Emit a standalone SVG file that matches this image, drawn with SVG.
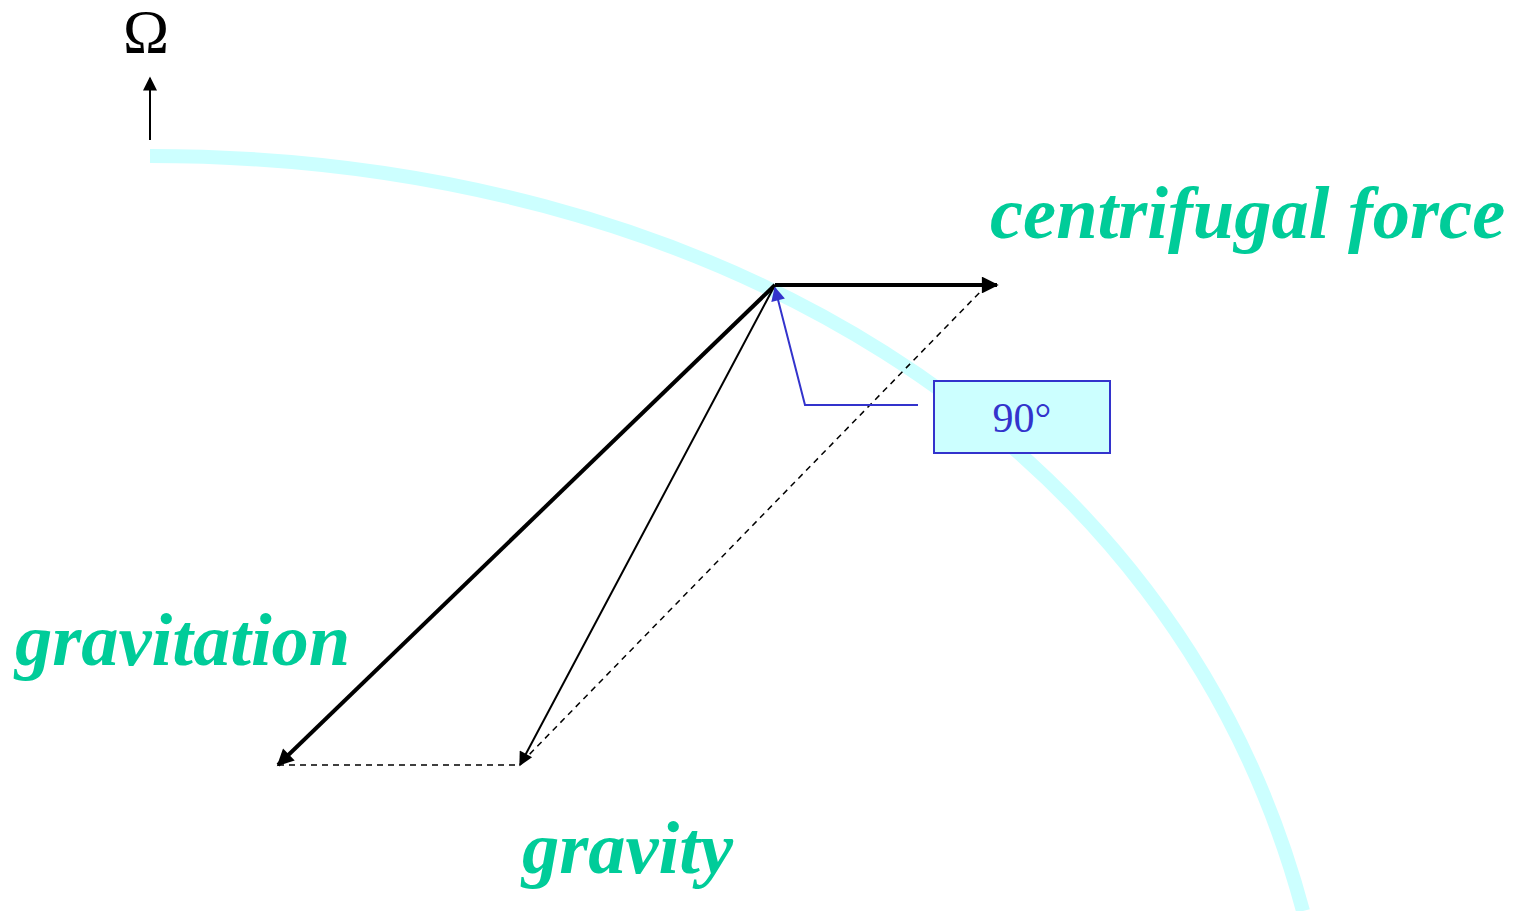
<svg xmlns="http://www.w3.org/2000/svg" width="1518" height="911" viewBox="0 0 1518 911">
<style>
.lbl{font-family:"Liberation Serif","Times New Roman",serif;font-weight:bold;font-style:italic;font-size:74.5px;fill:#00CC99}
.dash{stroke:#000;stroke-width:1.5;stroke-dasharray:6,5;fill:none}
</style>
<defs>
<marker id="ah" viewBox="0 0 10 10" refX="9" refY="5" markerWidth="5" markerHeight="4.2" orient="auto" markerUnits="strokeWidth"><path d="M0,0 L10,5 L0,10 z" fill="#000"/></marker>
<marker id="ahThin" viewBox="0 0 10 10" refX="9" refY="5" markerWidth="9" markerHeight="7" orient="auto" markerUnits="strokeWidth"><path d="M0,0 L10,5 L0,10 z" fill="#000"/></marker>
<marker id="ahBlue" viewBox="0 0 10 10" refX="9" refY="5" markerWidth="9" markerHeight="7" orient="auto" markerUnits="strokeWidth"><path d="M0,0 L10,5 L0,10 z" fill="#3333CC"/></marker>
</defs>
<rect width="1518" height="911" fill="#fff"/>
<path id="arc" d="M150,156 C700,156 1174,428 1303,911" fill="none" stroke="#CCFFFF" stroke-width="14"/>
<g id="omega">
<text x="146" y="52" font-family="'Liberation Serif','Times New Roman',serif" font-size="62" text-anchor="middle" fill="#000">Ω</text>
</g>
<g id="connectors">
<line x1="150" y1="140" x2="150" y2="78" stroke="#000" stroke-width="2" marker-end="url(#ahThin)"/>
<line class="dash" x1="278" y1="765" x2="520" y2="765"/>
<line class="dash" x1="522" y1="762" x2="985" y2="287"/>
<line x1="775" y1="285" x2="997" y2="285" stroke="#000" stroke-width="4" marker-end="url(#ah)"/>
<line x1="775" y1="285" x2="278" y2="765" stroke="#000" stroke-width="4" marker-end="url(#ah)"/>
<line x1="775" y1="285" x2="520" y2="765" stroke="#000" stroke-width="2" marker-end="url(#ahThin)"/>
<polyline points="918,405 805,405 775,288" fill="none" stroke="#3333CC" stroke-width="2" marker-end="url(#ahBlue)"/>
</g>
<g id="angle-box">
<rect x="934" y="381" width="176" height="72" fill="#CCFFFF" stroke="#3333CC" stroke-width="2"/>
<text x="1022" y="432" font-family="'Liberation Serif','Times New Roman',serif" font-size="42" text-anchor="middle" fill="#3333CC">90°</text>
</g>
<g id="label-centrifugal"><text class="lbl" x="990" y="238">centrifugal force</text></g>
<g id="label-gravitation"><text class="lbl" x="15" y="665">gravitation</text></g>
<g id="label-gravity"><text class="lbl" x="522" y="873">gravity</text></g>
</svg>
